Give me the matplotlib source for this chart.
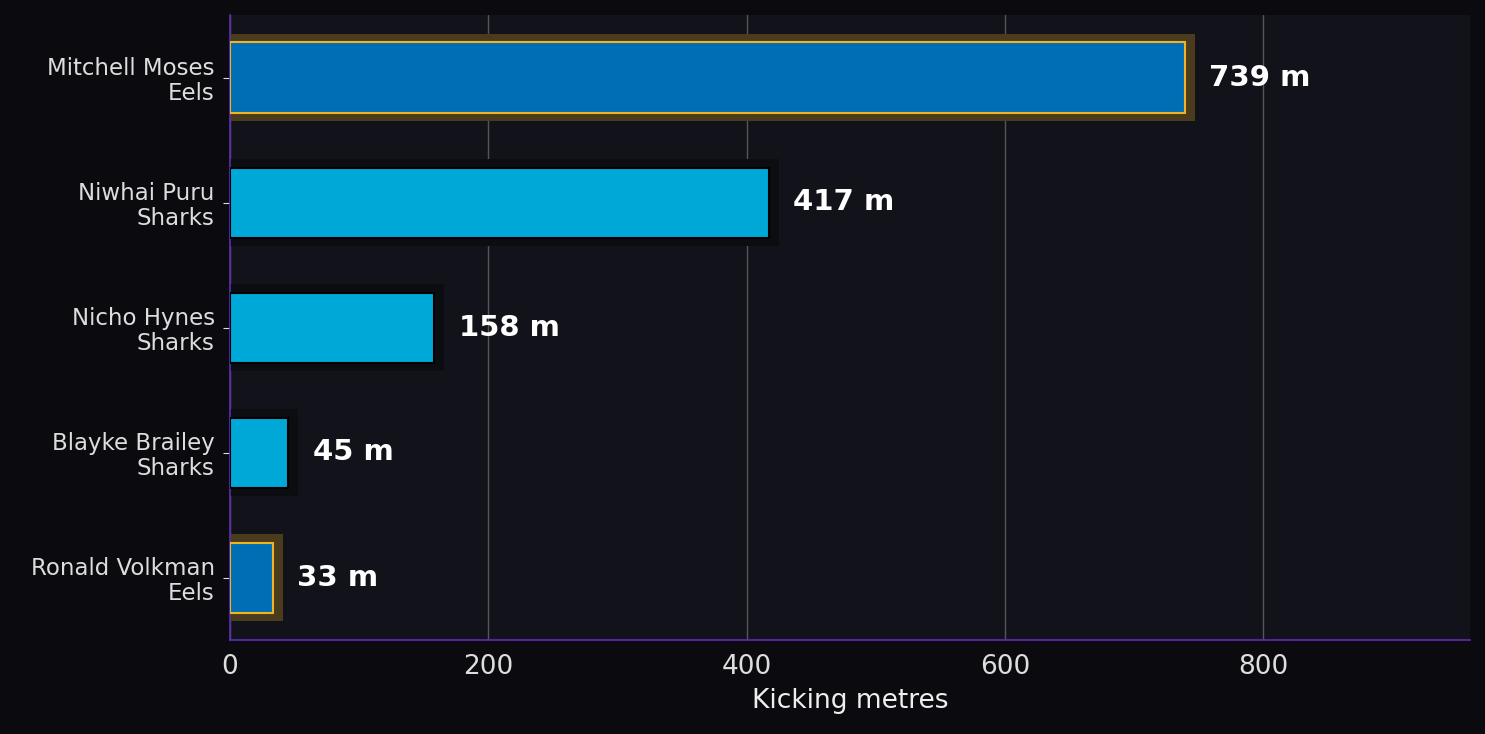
import matplotlib
matplotlib.use("Agg")
import matplotlib.pyplot as plt

players = ["Mitchell Moses\nEels", "Niwhai Puru\nSharks", "Nicho Hynes\nSharks",
           "Blayke Brailey\nSharks", "Ronald Volkman\nEels"]
teams = ["Eels", "Sharks", "Sharks", "Sharks", "Eels"]
metres = [739, 417, 158, 45, 33]

fig = plt.figure(figsize=(14.85, 7.34), dpi=100, facecolor="#0b0b0f")
ax = fig.add_axes([230/1485, 1-640/734, 1240/1485, 625/734])
ax.set_facecolor("#12131a")

y = list(range(len(players)))[::-1]
for yi, v, t in zip(y, metres, teams):
    if t == "Eels":
        glow, face, edge = "#4a3b1c", "#006eb5", "#f0b323"
    else:
        glow, face, edge = "#0c0d10", "#00a8d8", "#000000"
    ax.barh(yi, v + 8, height=0.7, color=glow, zorder=2)
    ax.barh(yi, v, height=0.56, color=face, edgecolor=edge, linewidth=1.5, zorder=3)
    ax.text(v + 19, yi, f"{v} m", va="center", ha="left", color="white",
            fontsize=21, fontweight="bold", zorder=4)

ax.set_yticks(y)
ax.set_yticklabels(players, color="#dddddd", fontsize=16.5, linespacing=1.1)
ax.set_xlim(0, 960)
ax.set_ylim(-0.5, 4.5)
ax.set_xticks([0, 200, 400, 600, 800])
ax.tick_params(axis="x", colors="#dddddd", labelsize=19, length=0, pad=10)
ax.tick_params(axis="y", colors="#dddddd", length=5, pad=6)
ax.set_xlabel("Kicking metres", color="#eeeeee", fontsize=19, labelpad=6)
ax.grid(axis="x", color="#555555", linewidth=1, zorder=0)
ax.set_axisbelow(True)
for s in ["top", "right"]:
    ax.spines[s].set_visible(False)
for s in ["left", "bottom"]:
    ax.spines[s].set_color("#5b2db8")
    ax.spines[s].set_linewidth(1.2)

fig.savefig("out.png", dpi=100, facecolor=fig.get_facecolor())
